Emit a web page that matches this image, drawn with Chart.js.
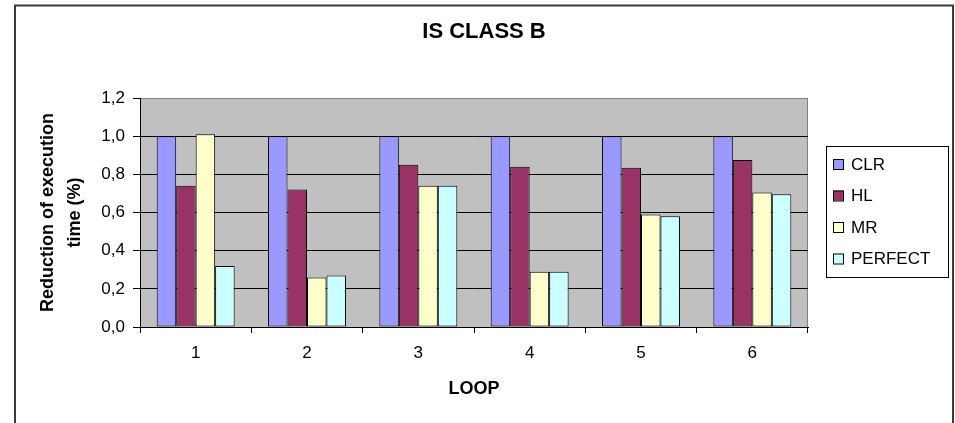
<!DOCTYPE html>
<html>
<head>
<meta charset="utf-8">
<script src="https://cdn.jsdelivr.net/npm/chart.js@4/dist/chart.umd.min.js"></script>
<style>
  html, body { margin: 0; padding: 0; background: #fff; }
  canvas { display: block; }
</style>
</head>
<body>
<canvas id="c" width="955" height="423"></canvas>
<script>
// Loop categories and per-scheme execution time ratios
const categories = ['1', '2', '3', '4', '5', '6'];
const clrValues = [1.00, 1.00, 1.00, 1.00, 1.00, 1.00];
const hlValues = [0.74, 0.72, 0.85, 0.84, 0.835, 0.875];
const mrValues = [1.01, 0.26, 0.74, 0.29, 0.59, 0.705];
const perfectValues = [0.32, 0.27, 0.74, 0.29, 0.58, 0.695];
const yTickValues = [0, 0.2, 0.4, 0.6, 0.8, 1.0, 1.2];
const chartTitle = 'IS CLASS B';

const FONT = "'Liberation Sans', Arial, sans-serif";

// Gray plot background, outer frame and centred title
const frame = {
  id: 'frame',
  beforeDraw(chart) {
    const { ctx, chartArea: a } = chart;
    ctx.save();
    ctx.fillStyle = '#C0C0C0';
    ctx.fillRect(a.left, a.top, a.right - a.left, a.bottom - a.top);
    ctx.strokeStyle = '#808080';
    ctx.lineWidth = 1;
    ctx.strokeRect(a.left + 0.5, a.top + 0.5, a.right - a.left - 1, a.bottom - a.top);
    ctx.strokeStyle = '#3a3a3a';
    ctx.lineWidth = 2;
    ctx.strokeRect(15, 5.5, 938, 440);
    ctx.fillStyle = '#000';
    ctx.font = 'bold 22px ' + FONT;
    ctx.textAlign = 'center';
    ctx.textBaseline = 'middle';
    ctx.fillText(chartTitle, 484, 32);
    ctx.restore();
  }
};

// Boxed legend on the right
const boxLegend = {
  id: 'boxLegend',
  afterDraw(chart) {
    const { ctx } = chart;
    const x0 = 826, y0 = 146, w = 122, h = 131;
    ctx.save();
    ctx.fillStyle = '#fff';
    ctx.fillRect(x0, y0, w, h);
    ctx.strokeStyle = '#000';
    ctx.lineWidth = 1;
    ctx.strokeRect(x0 + 0.5, y0 + 0.5, w, h);
    ctx.font = '17px ' + FONT;
    ctx.textBaseline = 'middle';
    ctx.textAlign = 'left';
    chart.data.datasets.forEach((ds, i) => {
      const cy = y0 + 18 + i * 31.5;
      ctx.fillStyle = ds.backgroundColor;
      ctx.fillRect(833, cy - 5, 10, 10);
      ctx.strokeStyle = '#000';
      ctx.strokeRect(833.5, cy - 4.5, 10, 10);
      ctx.fillStyle = '#000';
      ctx.fillText(ds.label, 851, cy + 1);
    });
    ctx.restore();
  }
};

const barStyle = {
  borderColor: '#000', borderWidth: 1, borderSkipped: false,
  barPercentage: 1.0, categoryPercentage: 0.7
};

new Chart(document.getElementById('c'), {
  type: 'bar',
  data: {
    labels: categories,
    datasets: [
      { label: 'CLR', data: clrValues, backgroundColor: '#9999FF', ...barStyle },
      { label: 'HL', data: hlValues, backgroundColor: '#993366', ...barStyle },
      { label: 'MR', data: mrValues, backgroundColor: '#FFFFCC', ...barStyle },
      { label: 'PERFECT', data: perfectValues, backgroundColor: '#CCFFFF', ...barStyle }
    ]
  },
  options: {
    responsive: false,
    animation: false,
    layout: { padding: { left: 0, top: 98, right: 147, bottom: 0 } },
    plugins: {
      legend: { display: false },
      tooltip: { enabled: false },
      title: { display: false }
    },
    scales: {
      x: {
        afterFit(s) { s.height = 96; },
        grid: { display: true, drawOnChartArea: false, offset: true, tickLength: 6, tickColor: '#000' },
        border: { display: true, color: '#000', width: 1 },
        ticks: { color: '#000', font: { family: FONT, size: 17 }, padding: 10, maxRotation: 0 },
        title: {
          display: true, text: 'LOOP', color: '#000',
          font: { family: FONT, size: 18, weight: 'bold', lineHeight: 1.2 },
          padding: { top: 0, bottom: 23 }
        }
      },
      y: {
        min: 0, max: 1.2,
        afterFit(s) { s.width = 140; },
        afterBuildTicks(s) { s.ticks = yTickValues.map(v => ({ value: v })); },
        grid: {
          color: (c) => (c.tick && c.tick.value >= 1.2 ? '#808080' : '#000'),
          tickColor: '#000', tickLength: 7, lineWidth: 1
        },
        border: { display: true, color: '#000', width: 1 },
        ticks: {
          color: '#000', font: { family: FONT, size: 17 }, padding: 8,
          callback: (v) => Number(v).toFixed(1).replace('.', ',')
        },
        title: {
          display: true, text: ['Reduction of execution', 'time (%)'], color: '#000',
          font: { family: FONT, size: 18, weight: 'bold', lineHeight: 1.5 },
          padding: { top: 35, bottom: 0 }
        }
      }
    }
  },
  plugins: [frame, boxLegend]
});
</script>
</body>
</html>
